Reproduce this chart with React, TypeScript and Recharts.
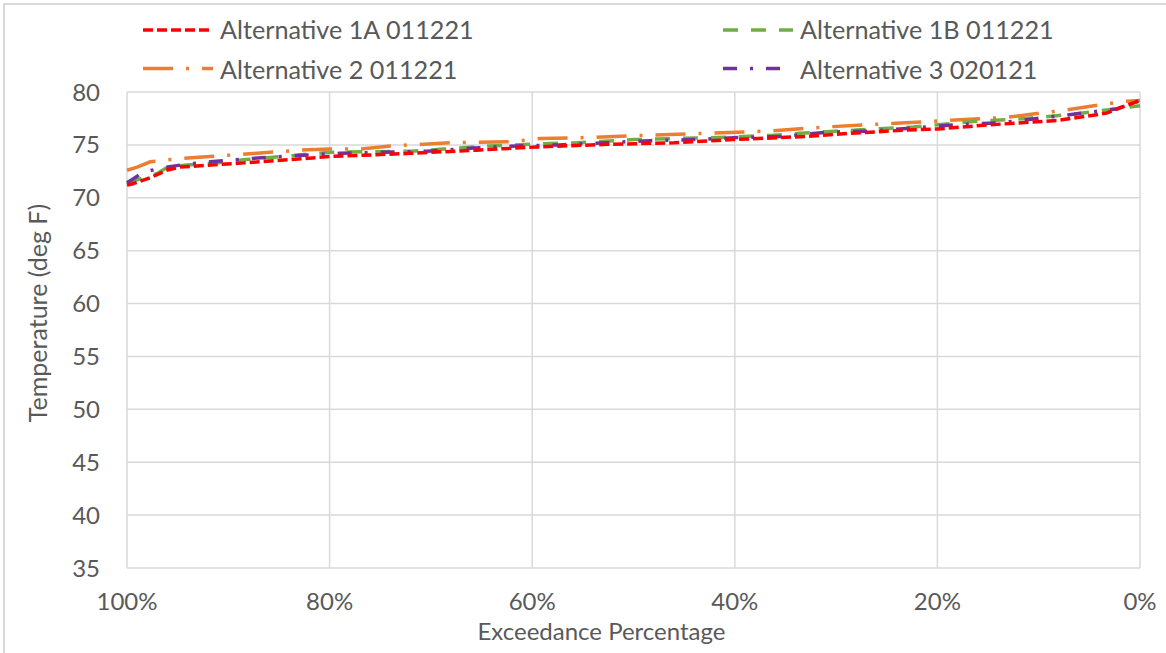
import React from 'react';
import { LineChart, Line, XAxis, YAxis, CartesianGrid, Legend } from 'recharts';

const FONT = 'Lato, Carlito, Calibri, "Liberation Sans", sans-serif';
const TEXT = '#595959';
const GRID = '#d9d9d9';

const xTicks = [0, 20, 40, 60, 80, 100];
const yTicks = [35, 40, 45, 50, 55, 60, 65, 70, 75, 80];

const alt1aPct = [100, 99.5, 97.7, 96.1, 94.8, 93.1, 88.5, 83.9, 80, 72, 65.5, 59.6, 52.6, 46, 40.2, 32.9, 28.6, 23, 20, 14.8, 8.2, 3.3, 1.7, 0];
const alt1aTemp = [71.2, 71.3, 71.9, 72.6, 72.9, 73.0, 73.3, 73.6, 73.9, 74.2, 74.5, 74.8, 75.05, 75.2, 75.5, 75.8, 76.1, 76.4, 76.5, 76.9, 77.3, 78.0, 78.6, 79.2];

const alt1bPct = [100, 99, 97, 96, 94.1, 91, 88.5, 85.9, 80, 72, 68.8, 64.2, 58.9, 55.6, 50, 41.8, 36.2, 33.6, 28, 22.4, 16.5, 11.2, 6.6, 3.3, 0];
const alt1bTemp = [71.5, 71.7, 72.3, 72.9, 73.1, 73.3, 73.6, 73.8, 74.3, 74.4, 74.6, 74.9, 75.1, 75.2, 75.5, 75.7, 75.9, 76.1, 76.4, 76.7, 77.2, 77.5, 77.9, 78.3, 78.7];

const alt2Pct = [100, 99, 97.7, 94.8, 91.8, 88.8, 85.9, 82.9, 80, 77, 74, 68.1, 62.2, 59.2, 54.6, 48.7, 42.8, 36.9, 30.9, 25, 19.1, 13.2, 7.3, 1.7, 0];
const alt2Temp = [72.6, 72.9, 73.4, 73.7, 73.9, 74.1, 74.3, 74.5, 74.6, 74.6, 74.9, 75.2, 75.3, 75.6, 75.7, 75.9, 76.1, 76.3, 76.7, 77.0, 77.3, 77.6, 78.3, 79.1, 79.2];

const alt3Pct = [100, 98.4, 96.7, 94, 91.8, 87.9, 83.2, 79, 74.7, 70.4, 65.8, 61.5, 57.3, 52.6, 48.4, 44.1, 39.5, 35.2, 30.9, 26.7, 22.4, 18.1, 13.8, 9.2, 4.9, 2.3, 0];
const alt3Temp = [71.4, 72.4, 72.8, 73.2, 73.4, 73.7, 74.0, 74.2, 74.3, 74.4, 74.7, 74.9, 75.0, 75.2, 75.4, 75.5, 75.7, 75.8, 76.2, 76.3, 76.6, 76.9, 77.1, 77.6, 78.1, 78.4, 79.2];

const seriesNames = ['Alternative 1A 011221', 'Alternative 1B 011221', 'Alternative 2 011221', 'Alternative 3 020121'];

const toPoints = (pct: number[], temp: number[]) => pct.map((p, i) => ({ pct: p, temp: temp[i] }));

const series = [
  { name: seriesNames[0], color: '#FF0000', dash: '10 4', data: toPoints(alt1aPct, alt1aTemp), lx: 143, tx: 220, row: 0 },
  { name: seriesNames[1], color: '#70AD47', dash: '15 13', data: toPoints(alt1bPct, alt1bTemp), lx: 723, tx: 800, row: 0 },
  { name: seriesNames[2], color: '#ED7D31', dash: '30 13 3 13', data: toPoints(alt2Pct, alt2Temp), lx: 143, tx: 220, row: 1 },
  { name: seriesNames[3], color: '#7030A0', dash: '14 13 3 13', data: toPoints(alt3Pct, alt3Temp), lx: 723, tx: 800, row: 1 },
];

const drawOrder = [series[2], series[1], series[3], series[0]];

const LegendContent = () => (
  <svg width={1166} height={90} style={{ display: 'block' }}>
    {series.map((s) => {
      const ly = s.row === 0 ? 30 : 68.5;
      const by = s.row === 0 ? 38.8 : 78.5;
      return (
        <g key={s.name}>
          <line x1={s.lx} x2={s.lx + 70} y1={ly} y2={ly} stroke={s.color} strokeWidth={3.5} strokeDasharray={s.dash} />
          <text x={s.tx} y={by} fill={TEXT} fontSize={25.2} fontFamily={FONT}>{s.name}</text>
        </g>
      );
    })}
  </svg>
);

const XTitle = (props: any) => {
  const vb = props.viewBox || { x: 0, y: 0, width: 0, height: 0 };
  return (
    <text x={vb.x + vb.width / 2 - 32} y={640} textAnchor="middle" fill={TEXT} fontSize={24} fontFamily={FONT}>
      Exceedance Percentage
    </text>
  );
};

const YTitle = () => (
  <text x={46.5} y={313} transform="rotate(-90 46.5 313)" textAnchor="middle" fill={TEXT} fontSize={25} fontFamily={FONT}>
    Temperature (deg F)
  </text>
);

export default function App() {
  return (
    <div style={{ position: 'absolute', left: 0, top: 0, width: 1166, height: 653, background: '#fff', overflow: 'hidden', fontFamily: FONT }}>
      <div style={{ position: 'absolute', left: 3, top: 3, width: 1200, height: 700, borderLeft: `2px solid ${GRID}`, borderTop: `2px solid ${GRID}` }} />
      <LineChart width={1166} height={653} margin={{ top: 92, right: 26, bottom: 25, left: 47 }} style={{ position: 'absolute', left: 0, top: 0 }}>
        <CartesianGrid stroke={GRID} strokeWidth={1.5} vertical={true} horizontal={true} />
        <XAxis
          type="number"
          dataKey="pct"
          domain={[0, 100]}
          reversed
          ticks={xTicks}
          tickFormatter={(v: number) => `${v}%`}
          axisLine={false}
          tickLine={false}
          tickSize={0}
          tickMargin={25}
          height={60}
          tick={{ fill: TEXT, fontSize: 24, fontFamily: FONT }}
          interval={0}
          label={<XTitle />}
          allowDuplicatedCategory={false}
        />
        <YAxis
          type="number"
          domain={[35, 80]}
          ticks={yTicks}
          axisLine={false}
          tickLine={false}
          tickSize={0}
          tickMargin={27}
          width={80}
          tick={{ fill: TEXT, fontSize: 24, fontFamily: FONT }}
          interval={0}
          label={<YTitle />}
        />
        <Legend
          content={<LegendContent />}
          layout="horizontal"
          verticalAlign="middle"
          align="center"
          wrapperStyle={{ top: 0, left: 0, width: 1166, height: 90 }}
        />
        {drawOrder.map((s) => (
          <Line
            key={s.name}
            data={s.data}
            dataKey="temp"
            name={s.name}
            type="linear"
            stroke={s.color}
            strokeWidth={3.5}
            strokeDasharray={s.dash}
            dot={false}
            activeDot={false}
            isAnimationActive={false}
          />
        ))}
      </LineChart>
    </div>
  );
}
